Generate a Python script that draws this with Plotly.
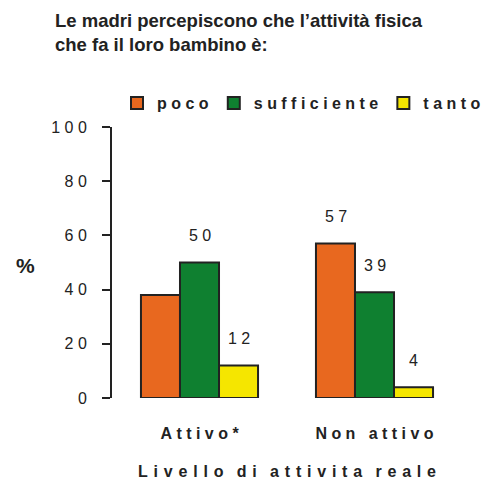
import plotly.graph_objects as go

# data
categories = ["Attivo*", "Non attivo"]
series_names = ["poco", "sufficiente", "tanto"]
poco = [38, 57]
sufficiente = [50, 39]
tanto = [12, 4]
value_labels = [["", "57"], ["50", "39"], ["12", "4"]]
y_ticks = [0, 20, 40, 60, 80, 100]
x_title = "Livello di attivita reale"

colors = ["#E8681F", "#0F8030", "#F5E600"]
edge = "#222222"
ink = "#222222"

# the page body has an 8px margin, so everything is placed 8px up/left
OFF = 8
NB = "\u00a0"


def spaced(s, sep=NB, wsep=NB * 3):
    # letter-spaced text, like the original
    return wsep.join(sep.join(w) for w in s.split(" "))


fig = go.Figure()
for name, vals, col in zip(series_names, [poco, sufficiente, tanto], colors):
    fig.add_trace(go.Bar(x=categories, y=vals, name=spaced(name),
                         marker=dict(color=col, line=dict(color=edge, width=2))))

# value labels above each bar
bar_px = 39
for i, vals in enumerate([poco, sufficiente, tanto]):
    for j, v in enumerate(vals):
        txt = value_labels[i][j]
        if not txt:
            continue
        fig.add_annotation(x=categories[j], y=v, text=NB.join(txt),
                           showarrow=False, xshift=(i - 1) * bar_px, yshift=27,
                           font=dict(size=16, color=ink))

l, t, w, h = 112 - OFF, 127 - OFF, 350, 271
fig.add_annotation(x=(25 - OFF - l) / w, y=(t + h - (265 - OFF)) / h,
                   xref="paper", yref="paper", xanchor="center", yanchor="middle",
                   text="<b>%</b>", showarrow=False, font=dict(size=21, color=ink))

fig.update_layout(
    width=489, height=481,
    margin=dict(l=l, r=489 - l - w, t=t, b=481 - t - h, autoexpand=False),
    paper_bgcolor="white", plot_bgcolor="white",
    font=dict(family="Liberation Sans, Arial", color=ink),
    barmode="group", bargap=0.331, bargroupgap=0,
    title=dict(text="<b>Le madri percepiscono che l’attività fisica<br>che fa il loro bambino è:</b>",
               x=(55 - OFF) / 489, xanchor="left", y=1 - 19 / 481, yanchor="top",
               font=dict(size=18.5, color=ink)),
    legend=dict(orientation="h", x=(486 - OFF - l) / w, xanchor="right",
                y=1 + (t - (103 - OFF)) / h, yanchor="middle",
                font=dict(size=16, color=ink, weight="bold"),
                itemclick=False, tracegroupgap=0),
    showlegend=True,
)
fig.update_xaxes(showline=False, ticks="", ticklabelstandoff=24,
                 tickfont=dict(size=16, color=ink, weight="bold"),
                 tickvals=categories, ticktext=[spaced(c) for c in categories],
                 title=dict(text="<b>" + spaced(x_title, sep=NB + "\u200a") + "</b>",
                            font=dict(size=16, color=ink), standoff=24))
fig.update_yaxes(range=[0, 100], tickvals=y_ticks,
                 ticktext=[NB.join(str(v)) for v in y_ticks],
                 showline=True, linecolor=edge, linewidth=2, showgrid=False, zeroline=False,
                 ticks="outside", ticklen=8, tickwidth=2, tickcolor=edge,
                 ticklabelstandoff=12, tickfont=dict(size=16, color=ink))

fig.write_html("out.html")
